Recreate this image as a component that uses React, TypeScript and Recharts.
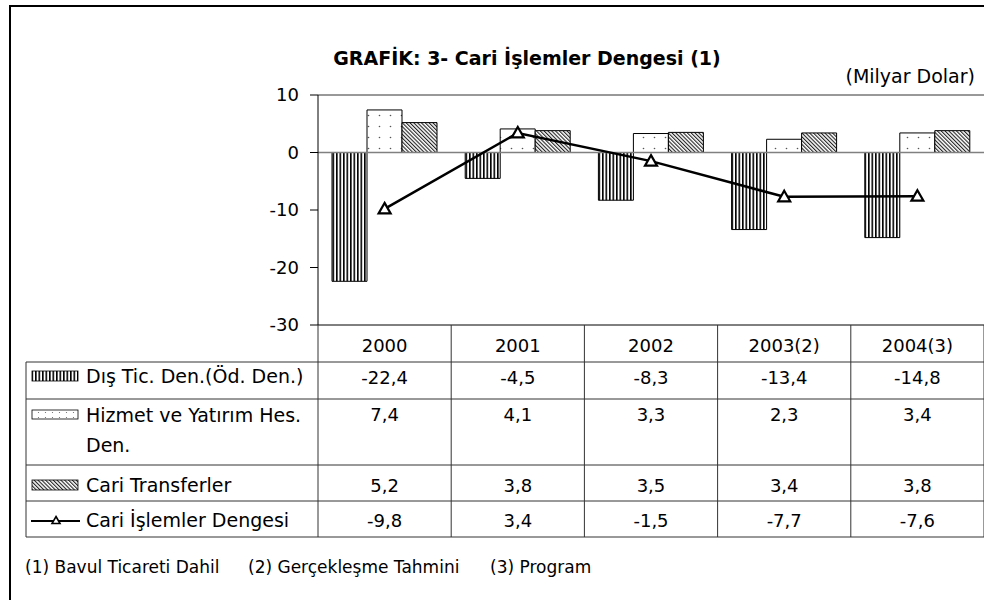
import React from 'react';
import { ComposedChart, Bar, Line, XAxis, YAxis, ReferenceLine } from 'recharts';

// values (Milyar Dolar)
const categories = ['2000', '2001', '2002', '2003(2)', '2004(3)'];
const disTicaret = [-22.4, -4.5, -8.3, -13.4, -14.8];
const hizmetYatirim = [7.4, 4.1, 3.3, 2.3, 3.4];
const cariTransfer = [5.2, 3.8, 3.5, 3.4, 3.8];
const cariDenge = [-9.8, 3.4, -1.5, -7.7, -7.6];
const yTicks = [-30, -20, -10, 0, 10];

const rowLabels = [
  ['Dış Tic. Den.(Öd. Den.)'],
  ['Hizmet ve Yatırım Hes.', 'Den.'],
  ['Cari Transferler'],
  ['Cari İşlemler Dengesi'],
];
const footnotes = ['(1) Bavul Ticareti Dahil', '(2) Gerçekleşme Tahmini', '(3) Program'];

const data = categories.map((year, i) => ({
  year,
  dis: disTicaret[i],
  hizmet: hizmetYatirim[i],
  transfer: cariTransfer[i],
  denge: cariDenge[i],
}));

const FONT = "'DejaVu Sans', Verdana, sans-serif";
const W = 984;
const H = 600;
const PLOT_LEFT = 318;
const TABLE_TOP = 325;
// table row separators and text baselines (relative to table top)
const rowLines = [362, 399, 465, 501, 537];
const rowBaselines = [59, 96, 167, 202];
const labelBaselines = [[383], [422, 452], [492], [527]];

const fmt = (v: number) => v.toFixed(1).replace('.', ',');

const Patterns = ({ prefix }: { prefix: string }) => (
  <defs>
    <pattern id={`${prefix}stripes`} patternUnits="userSpaceOnUse" width={3.5} height={10}>
      <rect width={3.5} height={10} fill="#fff" />
      <rect width={1.6} height={10} fill="#000" />
    </pattern>
    <pattern id={`${prefix}dots`} patternUnits="userSpaceOnUse" width={11} height={11}>
      <rect width={11} height={11} fill="#fff" />
      <circle cx={5.5} cy={5.5} r={0.8} fill="#555" />
    </pattern>
    <pattern id={`${prefix}kdots`} patternUnits="userSpaceOnUse" width={7} height={5}>
      <rect width={7} height={5} fill="#fff" />
      <circle cx={3.5} cy={2.5} r={0.6} fill="#666" />
    </pattern>
    <pattern
      id={`${prefix}hatch`}
      patternUnits="userSpaceOnUse"
      width={2.7}
      height={2.7}
      patternTransform="rotate(-45)"
    >
      <rect width={2.7} height={2.7} fill="#fff" />
      <rect width={1.1} height={2.7} fill="#222" />
    </pattern>
  </defs>
);

const TriangleDot = (props: any) => {
  const { cx, cy, index } = props;
  if (cx == null || cy == null) return null;
  return (
    <path
      key={`tri-${index}`}
      d={`M${cx},${cy - 6} L${cx + 6},${cy + 4.5} L${cx - 6},${cy + 4.5} Z`}
      fill="#fff"
      stroke="#000"
      strokeWidth={2.2}
    />
  );
};

// each x tick draws one column of the data table
const TableColumn = (props: any) => {
  const { x, y, payload } = props;
  const i = categories.indexOf(payload.value);
  const bw = props.width > 100 ? props.width / categories.length : (W - PLOT_LEFT) / categories.length;
  const values = [disTicaret[i], hizmetYatirim[i], cariTransfer[i], cariDenge[i]];
  const bottom = rowLines[rowLines.length - 1] - TABLE_TOP;
  return (
    <g>
      {i === 0 && (
        <line x1={x - bw / 2} x2={x - bw / 2} y1={y} y2={y + bottom} stroke="#333" strokeWidth={1} />
      )}
      <line x1={x + bw / 2} x2={x + bw / 2} y1={y} y2={y + bottom} stroke="#333" strokeWidth={1} />
      <text x={x} y={y + 27} textAnchor="middle" fontSize={18} fill="#000" fontFamily={FONT}>
        {payload.value}
      </text>
      {values.map((v, r) => (
        <text
          key={r}
          x={x}
          y={y + rowBaselines[r]}
          textAnchor="middle"
          fontSize={18}
          fill="#000"
          fontFamily={FONT}
        >
          {fmt(v)}
        </text>
      ))}
    </g>
  );
};

export default function App() {
  return (
    <div
      style={{
        position: 'absolute',
        left: 0,
        top: 0,
        width: W,
        height: H,
        background: '#fff',
        overflow: 'hidden',
        fontFamily: FONT,
      }}
    >
      <div style={{ position: 'absolute', left: 0, top: 0 }}>
        <ComposedChart
          width={W}
          height={H}
          data={data}
          margin={{ top: 95, right: 0, left: 0, bottom: 0 }}
          barCategoryGap={14}
          barGap={0}
        >
          <Patterns prefix="c-" />
          <XAxis
            dataKey="year"
            height={H - TABLE_TOP}
            interval={0}
            tickSize={0}
            tickMargin={0}
            tickLine={false}
            axisLine={{ stroke: '#000', strokeWidth: 1 }}
            tick={TableColumn}
          />
          <YAxis
            domain={[-30, 10]}
            ticks={yTicks}
            interval={0}
            width={PLOT_LEFT}
            tickSize={8}
            tickMargin={11}
            axisLine={{ stroke: '#000', strokeWidth: 1 }}
            tickLine={{ stroke: '#000', strokeWidth: 1 }}
            tick={{ fill: '#000', fontSize: 18, fontFamily: FONT }}
          />
          <ReferenceLine y={10} stroke="#333" strokeWidth={1} />
          <Bar dataKey="dis" fill="url(#c-stripes)" stroke="#000" strokeWidth={1} isAnimationActive={false} />
          <Bar dataKey="hizmet" fill="url(#c-dots)" stroke="#000" strokeWidth={1} isAnimationActive={false} />
          <Bar dataKey="transfer" fill="url(#c-hatch)" stroke="#000" strokeWidth={1} isAnimationActive={false} />
          <ReferenceLine y={0} stroke="#808080" strokeWidth={1.5} />
          <Line
            type="linear"
            dataKey="denge"
            stroke="#000"
            strokeWidth={2.5}
            dot={TriangleDot}
            activeDot={false}
            isAnimationActive={false}
          />
        </ComposedChart>
      </div>

      <svg
        width={W}
        height={H}
        style={{ position: 'absolute', left: 0, top: 0, pointerEvents: 'none', fontFamily: FONT }}
      >
        <Patterns prefix="k-" />
        {/* outer frame */}
        <path d={`M10,${H + 10} L10,6 L${W + 10},6`} fill="none" stroke="#000" strokeWidth={2} />

        <text x={527} y={65} textAnchor="middle" fontSize={19} fontWeight="bold" fill="#000">
          GRAFİK: 3- Cari İşlemler Dengesi (1)
        </text>
        <text x={975} y={83} textAnchor="end" fontSize={19} fill="#000">
          (Milyar Dolar)
        </text>

        {/* table rows */}
        {rowLines.map((ly) => (
          <line key={ly} x1={26} x2={W} y1={ly} y2={ly} stroke="#333" strokeWidth={1} />
        ))}
        <line x1={26} x2={26} y1={rowLines[0]} y2={rowLines[rowLines.length - 1]} stroke="#333" strokeWidth={1} />

        {/* legend keys */}
        <rect x={32} y={371} width={46} height={10} fill="url(#k-stripes)" stroke="#000" strokeWidth={0.8} />
        <rect x={32} y={410} width={46} height={9} fill="url(#k-kdots)" stroke="#000" strokeWidth={0.8} />
        <rect x={32} y={480} width={46} height={10} fill="url(#k-hatch)" stroke="#000" strokeWidth={0.8} />
        <line x1={31} x2={80} y1={521} y2={521} stroke="#000" strokeWidth={2} />
        <path d="M56,516.5 L60,523.5 L52,523.5 Z" fill="#fff" stroke="#000" strokeWidth={1.6} />

        {rowLabels.map((lines, r) =>
          lines.map((t, k) => (
            <text key={`${r}-${k}`} x={86} y={labelBaselines[r][k]} fontSize={19} fill="#000">
              {t}
            </text>
          ))
        )}

        {footnotes.map((t, k) => (
          <text key={t} x={[25, 248, 490][k]} y={573} fontSize={17} fill="#000">
            {t}
          </text>
        ))}
      </svg>
    </div>
  );
}
